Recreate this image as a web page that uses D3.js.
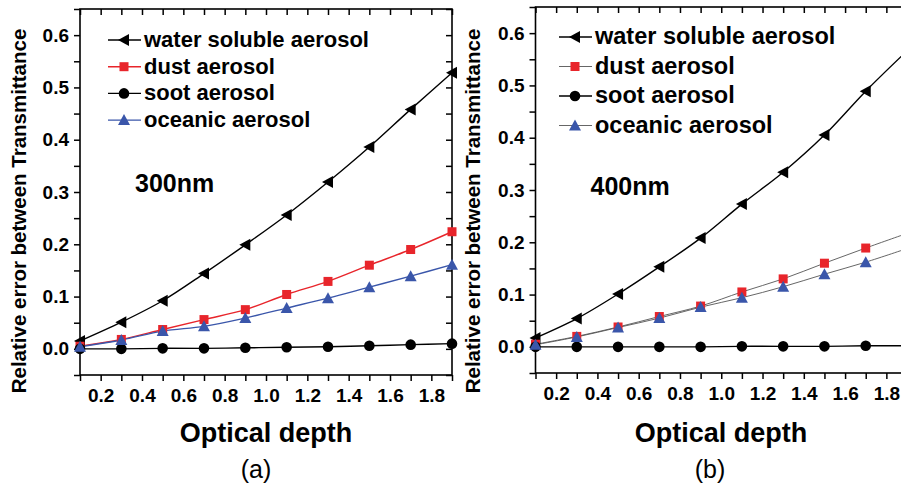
<!DOCTYPE html>
<html>
<head>
<meta charset="utf-8">
<script src="https://cdn.jsdelivr.net/npm/d3@7"></script>
<style>
  body { margin: 0; background: #fff; }
  svg { display: block; font-family: "Liberation Sans", Arial, sans-serif; }
</style>
</head>
<body>
<svg id="chart" width="901" height="485"></svg>
<script>
// optical depth samples
var depth = [0.1, 0.3, 0.5, 0.7, 0.9, 1.1, 1.3, 1.5, 1.7, 1.9];

// (a) 300nm
var water300 = [0.015, 0.051, 0.092, 0.144, 0.199, 0.256, 0.319, 0.386, 0.458, 0.528];
var dust300 = [0.005, 0.018, 0.037, 0.056, 0.075, 0.104, 0.129, 0.160, 0.190, 0.224];
var soot300 = [0.000, 0.000, 0.001, 0.001, 0.002, 0.003, 0.004, 0.006, 0.008, 0.010];
var ocean300 = [0.004, 0.017, 0.034, 0.043, 0.059, 0.078, 0.097, 0.118, 0.139, 0.161];

// (b) 400nm
var water400 = [0.017, 0.054, 0.101, 0.153, 0.208, 0.273, 0.334, 0.405, 0.489, 0.566];
var dust400 = [0.005, 0.020, 0.038, 0.058, 0.078, 0.105, 0.130, 0.160, 0.189, 0.217];
var soot400 = [0.000, 0.000, 0.000, 0.000, 0.000, 0.001, 0.001, 0.001, 0.002, 0.002];
var ocean400 = [0.004, 0.019, 0.037, 0.055, 0.076, 0.094, 0.115, 0.139, 0.162, 0.188];

var seriesNames = ["water soluble aerosol", "dust aerosol", "soot aerosol", "oceanic aerosol"];
var xTicks = [0.2, 0.4, 0.6, 0.8, 1.0, 1.2, 1.4, 1.6, 1.8];
var yTicks = [0.0, 0.1, 0.2, 0.3, 0.4, 0.5, 0.6];
var xMinor = d3.range(1, 20, 1).map(d => d / 10);
var yMinor = d3.range(-1, 14, 1).map(d => d / 20);

var RED = "#e8252b", BLUE = "#3a56aa";

var svg = d3.select("#chart");

var panels = [
  { x0: 80, x1: 452, y0: 375, y1: 9, tag: "(a)", wl: "300nm",
    values: [water300, dust300, soot300, ocean300],
    lineColors: ["#000", RED, "#000", BLUE], lineW: [1.4, 1.4, 1.4, 1.4],
    legX: 108, legY: 40, legDy: 26.7, legFont: 22, tagX: 256, titleX: 266, yTitleX: 26 },
  { x0: 535.5, x1: 907, y0: 373, y1: 7, tag: "(b)", wl: "400nm",
    values: [water400, dust400, soot400, ocean400],
    lineColors: ["#000", "#555", "#000", "#555"], lineW: [1.4, 0.9, 1.4, 0.9],
    legX: 559, legY: 37, legDy: 29.5, legFont: 23.5, tagX: 710, titleX: 721, yTitleX: 480 }
];

var markColors = ["#000", RED, "#000", BLUE];

function marker(g, i, color) {
  if (i == 0) {
    g.append("path").attr("d", "M-6,0L5,-6L5,6Z").attr("fill", color);
  } else if (i == 1) {
    g.append("rect").attr("x", -4.5).attr("y", -4.5).attr("width", 9).attr("height", 9).attr("fill", color);
  } else if (i == 2) {
    g.append("circle").attr("r", 5.3).attr("fill", color);
  } else {
    g.append("path").attr("d", "M0,-6L6,5L-6,5Z").attr("fill", color);
  }
}

panels.forEach(function(p) {
  var x = d3.scaleLinear().domain([0.1, 1.9]).range([p.x0, p.x1]);
  var y = d3.scaleLinear().domain([-0.05, 0.65]).range([p.y0, p.y1]);
  var g = svg.append("g");

  // axes: bottom & left outward, top & right inward
  var fmt = d => yTicks.some(t => Math.abs(t - d) < 1e-9) ? d3.format(".1f")(d) : "";
  var fmtX = d => xTicks.some(t => Math.abs(t - d) < 1e-9) ? d3.format(".1f")(d) : "";

  var bottom = g.append("g").attr("transform", "translate(0," + p.y0 + ")")
    .call(d3.axisBottom(x).tickValues(xMinor).tickFormat(fmtX).tickSize(6).tickSizeOuter(0).tickPadding(8));
  var left = g.append("g").attr("transform", "translate(" + p.x0 + ",0)")
    .call(d3.axisLeft(y).tickValues(yMinor).tickFormat(fmt).tickSize(6).tickSizeOuter(0).tickPadding(5));
  var top = g.append("g").attr("transform", "translate(0," + p.y1 + ")")
    .call(d3.axisBottom(x).tickValues(xMinor).tickFormat("").tickSize(6).tickSizeOuter(0));
  var right = g.append("g").attr("transform", "translate(" + p.x1 + ",0)")
    .call(d3.axisLeft(y).tickValues(yMinor).tickFormat("").tickSize(6).tickSizeOuter(0));

  [bottom, left, top, right].forEach(function(a) {
    a.select(".domain").remove();
    a.selectAll("line").attr("stroke", "#000").attr("stroke-width", 1.5);
    a.selectAll("text").attr("font-size", 19).attr("font-weight", "bold").attr("fill", "#000")
      .attr("font-family", "Liberation Sans, Arial, sans-serif");
  });

  g.append("rect").attr("x", p.x0).attr("y", p.y1)
    .attr("width", p.x1 - p.x0).attr("height", p.y0 - p.y1)
    .attr("fill", "none").attr("stroke", "#000").attr("stroke-width", 1.6);

  var line = d3.line().x((d, i) => x(depth[i])).y(d => y(d)).curve(d3.curveCatmullRom);

  p.values.forEach(function(vals, k) {
    g.append("path").datum(vals).attr("d", line)
      .attr("fill", "none").attr("stroke", p.lineColors[k]).attr("stroke-width", p.lineW[k]);
  });
  p.values.forEach(function(vals, k) {
    vals.forEach(function(v, i) {
      var m = g.append("g").attr("transform", "translate(" + x(depth[i]) + "," + y(v) + ")");
      marker(m, k, markColors[k]);
    });
  });

  // legend
  seriesNames.forEach(function(name, k) {
    var ly = p.legY + k * p.legDy;
    g.append("line").attr("x1", p.legX).attr("x2", p.legX + 33).attr("y1", ly).attr("y2", ly)
      .attr("stroke", p.lineColors[k]).attr("stroke-width", p.lineW[k]);
    var m = g.append("g").attr("transform", "translate(" + (p.legX + 16) + "," + ly + ")");
    marker(m, k, markColors[k]);
    g.append("text").attr("x", p.legX + 36).attr("y", ly + 7)
      .attr("font-size", p.legFont).attr("font-weight", "bold").text(name);
  });

  g.append("text").attr("x", p.x0 + 55).attr("y", p.x0 < 100 ? 192 : 195)
    .attr("font-size", 25).attr("font-weight", "bold").text(p.wl);

  g.append("text").attr("x", p.titleX).attr("y", 442).attr("text-anchor", "middle")
    .attr("font-size", 27).attr("font-weight", "bold").text("Optical depth");

  g.append("text").attr("x", p.tagX).attr("y", 478).attr("text-anchor", "middle")
    .attr("font-size", 25).text(p.tag);

  g.append("text").attr("transform", "translate(" + p.yTitleX + ",211) rotate(-90)")
    .attr("text-anchor", "middle").attr("font-size", 20.5).attr("font-weight", "bold")
    .text("Relative error between Transmittance");
});
</script>
</body>
</html>
